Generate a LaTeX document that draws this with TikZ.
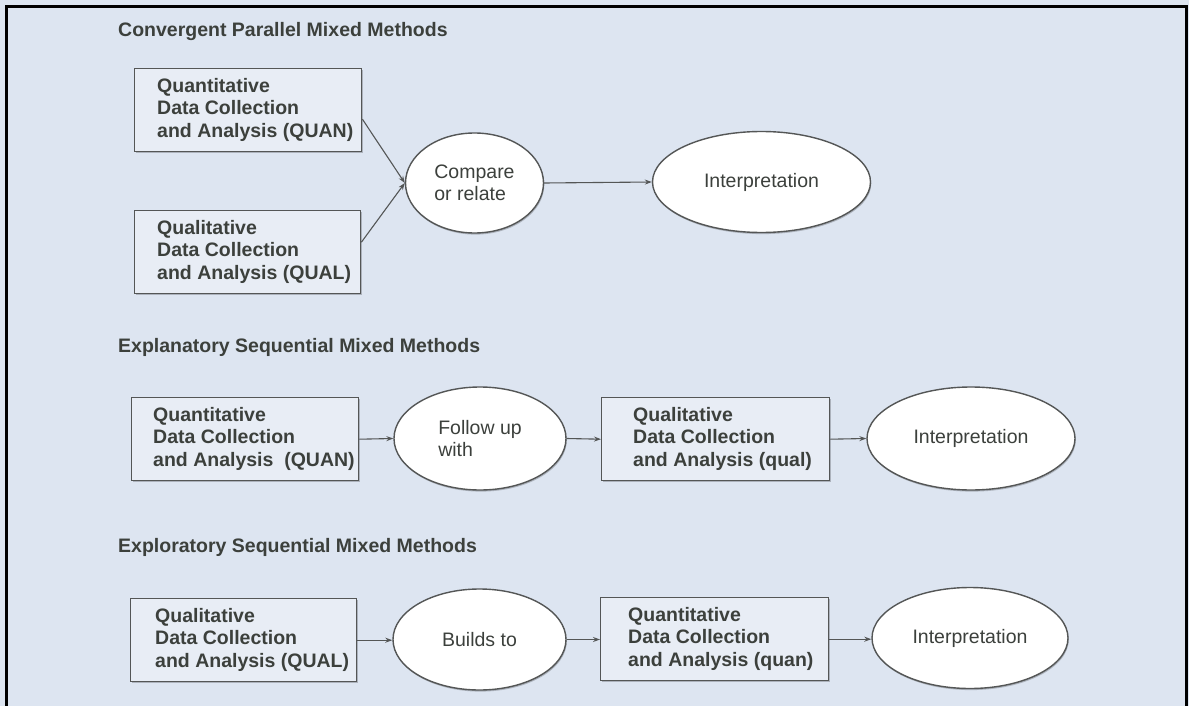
\documentclass[tikz,border=0pt]{standalone}
\usepackage{fontspec}
\setmainfont{Liberation Sans}
\usetikzlibrary{shapes.geometric,arrows.meta,shadows}

\definecolor{pagebg}{HTML}{DDE5F1}
\definecolor{boxfill}{HTML}{E8EDF5}
\definecolor{inkgray}{HTML}{3C403C}
\definecolor{edgegray}{HTML}{545656}

\newcommand{\diagfont}{\fontsize{19.5}{22.5}\selectfont}

\tikzset{
  softshadow/.style={drop shadow={shadow xshift=0.8pt, shadow yshift=-1.6pt, opacity=0.22, fill=black}},
  heading/.style={font=\diagfont\bfseries, text=inkgray, anchor=base west, inner sep=0pt},
  databox/.style={rectangle, draw=edgegray, line width=1.4pt, fill=boxfill, inner sep=0pt,
    anchor=north west, minimum width=#1, minimum height=83pt, softshadow},
  databox/.default=227pt,
  boxtext/.style={font=\diagfont\bfseries, text=inkgray, align=left, anchor=west, inner sep=0pt},
  stage/.style={ellipse, draw=edgegray, line width=1.4pt, fill=white, inner sep=0pt,
    font=\diagfont, text=inkgray, align=left, softshadow},
  flow/.style={draw=edgegray, line width=1.1pt, -{Stealth[length=7pt,width=5pt]}},
}

\begin{document}
\begin{tikzpicture}[x=1pt,y=-1pt]
  % page and frame
  \fill[pagebg] (0,0) rectangle (1189,706);
  \useasboundingbox (0,0) rectangle (1189,706);
  \draw[black, line width=3pt] (6.5,706) -- (6.5,6.5) -- (1186,6.5) -- (1186,706);

  % ---------- Convergent parallel ----------
  \node[heading] (t1) at (118,37) {Convergent Parallel Mixed Methods};

  \node[databox] (b1) at (134,68) {};
  \node[boxtext] (b1t) at (157,109.5) {Quantitative\\Data Collection\\and Analysis (QUAN)};
  \node[databox=226pt] (b2) at (134,210) {};
  \node[boxtext] (b2t) at (157,251.5) {Qualitative\\Data Collection\\and Analysis (QUAL)};

  \node[stage, minimum width=138pt, minimum height=100pt] (e1) at (474.5,183) {Compare\\or relate};
  \node[stage, minimum width=218pt, minimum height=101pt] (e2) at (761.5,182) {Interpretation};

  \draw[flow] ([yshift=-9pt]b1.east) -- (e1.west);
  \draw[flow] ([yshift=10pt]b2.east) -- (e1.west);
  \draw[flow] (e1.east) -- (e2.west);

  % ---------- Explanatory sequential ----------
  \node[heading] (t2) at (118,352) {Explanatory Sequential Mixed Methods};

  \node[databox] (b3) at (131,397) {};
  \node[boxtext] (b3t) at (153,438.5) {Quantitative\\Data Collection\\and Analysis~ (QUAN)};
  \node[stage, minimum width=172pt, minimum height=103pt] (e3) at (480,438.5) {Follow up\\with};
  \node[databox=228pt] (b4) at (601,397) {};
  \node[boxtext] (b4t) at (633,438.5) {Qualitative\\Data Collection\\and Analysis (qual)};
  \node[stage, minimum width=208pt, minimum height=103pt] (e4) at (971,438.5) {Interpretation};

  \draw[flow] (b3.east) -- (e3.west);
  \draw[flow] (e3.east) -- (b4.west);
  \draw[flow] (b4.east) -- (e4.west);

  % ---------- Exploratory sequential ----------
  \node[heading] (t3) at (118,552) {Exploratory Sequential Mixed Methods};

  \node[databox=226pt] (b5) at (130,598) {};
  \node[boxtext] (b5t) at (155,639.5) {Qualitative\\Data Collection\\and Analysis (QUAL)};
  \node[stage, minimum width=173pt, minimum height=101pt] (e5) at (479.5,639.5) {Builds to};
  \node[databox=228pt] (b6) at (600,597) {};
  \node[boxtext] (b6t) at (628,638.5) {Quantitative\\Data Collection\\and Analysis (quan)};
  \node[stage, minimum width=196pt, minimum height=101pt] (e6) at (970,638) {Interpretation};

  \draw[flow] (b5.east) -- (b5.east -| e5.west);
  \draw[flow] (e5.east) -- (e5.east -| b6.west);
  \draw[flow] (b6.east) -- (b6.east -| e6.west);
\end{tikzpicture}
\end{document}
